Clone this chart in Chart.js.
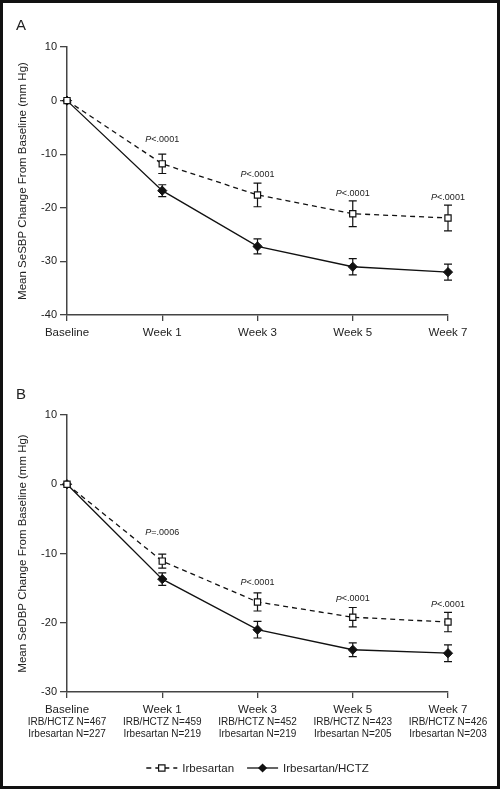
<!DOCTYPE html>
<html><head><meta charset="utf-8">
<script src="https://cdn.jsdelivr.net/npm/chart.js@4/dist/chart.umd.min.js"></script>
<style>
html,body{margin:0;padding:0;background:#fff;}
#wrap{position:relative;width:500px;height:789px;overflow:hidden;font-family:"Liberation Sans",Arial,sans-serif;}
#frame{position:absolute;left:0;top:0;width:500px;height:789px;box-sizing:border-box;border:3px solid #111;pointer-events:none;z-index:5;}
.panel{position:absolute;font-size:15px;color:#222;line-height:1;}
#cA{position:absolute;left:0;top:0;}
#cB{position:absolute;left:0;top:380px;}
</style></head>
<body><div id="wrap">
<canvas id="cA" width="500" height="380"></canvas>
<canvas id="cB" width="500" height="409"></canvas>
<div class="panel" style="left:16px;top:17px">A</div>
<div class="panel" style="left:16px;top:386px">B</div>
<div id="frame"></div>
</div>
<script>
// ---- data ----
const categories = ['Baseline', 'Week 1', 'Week 3', 'Week 5', 'Week 7'];
const seriesNames = ['Irbesartan', 'Irbesartan/HCTZ'];

const sbpIrbesartan    = [0, -11.8, -17.6, -21.1, -21.9];
const sbpIrbesartanErr = [0, 1.8, 2.2, 2.4, 2.4];
const sbpCombo         = [0, -16.8, -27.2, -31.0, -32.0];
const sbpComboErr      = [0, 1.1, 1.4, 1.5, 1.5];
const sbpPValues       = [null, '<.0001', '<.0001', '<.0001', '<.0001'];
const sbpTicks         = [10, 0, -10, -20, -30, -40];

const dbpIrbesartan    = [0, -11.1, -17.0, -19.2, -19.9];
const dbpIrbesartanErr = [0, 1.0, 1.3, 1.4, 1.4];
const dbpCombo         = [0, -13.7, -21.0, -23.9, -24.4];
const dbpComboErr      = [0, 0.9, 1.2, 1.0, 1.2];
const dbpPValues       = [null, '=.0006', '<.0001', '<.0001', '<.0001'];
const dbpTicks         = [10, 0, -10, -20, -30];

const nCombo      = [467, 459, 452, 423, 426];
const nIrbesartan = [227, 219, 219, 205, 203];

// ---- styling / plugins ----
const FONT = '"Liberation Sans", Arial, sans-serif';
const INK = '#111';
const TXT = '#222';

const errorBars = {
  id: 'errorBars',
  beforeDatasetsDraw(chart) {
    const ctx = chart.ctx, y = chart.scales.y;
    chart.data.datasets.forEach((ds, i) => {
      const meta = chart.getDatasetMeta(i);
      meta.data.forEach((pt, j) => {
        const e = ds.errors ? ds.errors[j] : 0;
        if (!e) return;
        const v = ds.data[j];
        const yt = y.getPixelForValue(v + e), yb = y.getPixelForValue(v - e);
        ctx.save();
        ctx.strokeStyle = INK; ctx.lineWidth = 1.2; ctx.setLineDash([]);
        ctx.beginPath();
        ctx.moveTo(pt.x, yt); ctx.lineTo(pt.x, yb);
        ctx.moveTo(pt.x - 4, yt); ctx.lineTo(pt.x + 4, yt);
        ctx.moveTo(pt.x - 4, yb); ctx.lineTo(pt.x + 4, yb);
        ctx.stroke();
        ctx.restore();
      });
    });
  }
};

const pLabels = {
  id: 'pLabels',
  afterDatasetsDraw(chart, args, opts) {
    const ds = chart.data.datasets[0];
    const vals = opts.values; if (!vals) return;
    const lift = opts.lift || [];
    const ctx = chart.ctx, y = chart.scales.y;
    const meta = chart.getDatasetMeta(0);
    ctx.save();
    ctx.fillStyle = TXT; ctx.textBaseline = 'bottom';
    meta.data.forEach((pt, j) => {
      if (!vals[j]) return;
      const top = y.getPixelForValue(ds.data[j] + (ds.errors[j] || 0));
      const ty = top - 3 - (lift[j] || 0);
      ctx.font = 'italic 9px ' + FONT;
      const wP = ctx.measureText('P').width;
      ctx.font = '9px ' + FONT;
      const wR = ctx.measureText(vals[j]).width;
      const x0 = pt.x - (wP + wR) / 2;
      ctx.textAlign = 'left';
      ctx.font = 'italic 9px ' + FONT;
      ctx.fillText('P', x0, ty);
      ctx.font = '9px ' + FONT;
      ctx.fillText(vals[j], x0 + wP, ty);
    });
    ctx.restore();
  }
};

function drawSquare(ctx, x, y, s) {
  ctx.save(); ctx.setLineDash([]); ctx.fillStyle = '#fff'; ctx.strokeStyle = INK; ctx.lineWidth = 1.2;
  ctx.beginPath(); ctx.rect(x - s, y - s, 2 * s, 2 * s); ctx.fill(); ctx.stroke(); ctx.restore();
}
function drawDiamond(ctx, x, y, s) {
  ctx.save(); ctx.fillStyle = INK;
  ctx.beginPath(); ctx.moveTo(x, y - s); ctx.lineTo(x + s, y); ctx.lineTo(x, y + s); ctx.lineTo(x - s, y); ctx.closePath(); ctx.fill(); ctx.restore();
}

const bottomLegend = {
  id: 'bottomLegend',
  afterDraw(chart, args, opts) {
    if (!opts.show) return;
    const ctx = chart.ctx;
    const ca = chart.chartArea;
    const cy = opts.y;
    ctx.save();
    ctx.font = '11.5px ' + FONT;
    const sym = 31, gapT = 5, gapItem = 13;
    const names = chart.data.datasets.map(d => d.label);
    const widths = names.map(n => ctx.measureText(n).width);
    const total = sym * 2 + gapT * 2 + widths[0] + widths[1] + gapItem;
    let x = (ca.left + ca.right) / 2 - total / 2;
    chart.data.datasets.forEach((ds, i) => {
      ctx.strokeStyle = INK; ctx.lineWidth = 1.3;
      ctx.setLineDash(ds.borderDash || []);
      ctx.beginPath(); ctx.moveTo(x, cy); ctx.lineTo(x + sym, cy); ctx.stroke();
      ctx.setLineDash([]);
      if (i === 0) drawSquare(ctx, x + sym / 2, cy, 3.2);
      else drawDiamond(ctx, x + sym / 2, cy, 4.6);
      ctx.fillStyle = TXT; ctx.textAlign = 'left'; ctx.textBaseline = 'middle';
      ctx.fillText(ds.label, x + sym + gapT, cy + 1);
      x += sym + gapT + widths[i] + gapItem;
    });
    ctx.restore();
  }
};

function makeDatasets(irb, irbErr, combo, comboErr) {
  return [
    {
      label: seriesNames[0], data: irb, errors: irbErr,
      borderColor: INK, borderWidth: 1.3, borderDash: [5, 4],
      pointStyle: 'rect', pointRadius: 4.4, pointBackgroundColor: '#fff',
      pointBorderColor: INK, pointBorderWidth: 1.2, tension: 0, clip: false
    },
    {
      label: seriesNames[1], data: combo, errors: comboErr,
      borderColor: INK, borderWidth: 1.3,
      pointStyle: 'rectRot', pointRadius: 4.6, pointBackgroundColor: INK,
      pointBorderColor: INK, pointBorderWidth: 1, tension: 0, clip: false
    }
  ];
}

function yScale(ticks, title) {
  return {
    min: Math.min(...ticks), max: Math.max(...ticks),
    afterFit: s => { s.width = 67; },
    afterBuildTicks: s => { s.ticks = ticks.slice().sort((a, b) => a - b).map(v => ({ value: v })); },
    ticks: { color: TXT, font: { family: FONT, size: 11 }, padding: 3 },
    grid: { drawOnChartArea: false, drawTicks: true, tickLength: 7, color: '#444', lineWidth: 1.3 },
    border: { display: true, color: '#444', width: 1.5 },
    title: { display: true, text: title, color: TXT, font: { family: FONT, size: 11.5 }, padding: { top: 16, bottom: 0 } }
  };
}
function xScale() {
  return {
    type: 'category', offset: false, weight: 0,
    afterFit: s => { s.height = 24; },
    ticks: { color: TXT, font: { family: FONT, size: 11.5 }, padding: 5, autoSkip: false, maxRotation: 0 },
    grid: { drawOnChartArea: false, drawTicks: true, tickLength: 6, color: '#444', lineWidth: 1.3 },
    border: { display: true, color: '#444', width: 1.5 }
  };
}

const common = { responsive: false, animation: false, devicePixelRatio: 1 };

new Chart(document.getElementById('cA'), {
  type: 'line',
  data: { labels: categories, datasets: makeDatasets(sbpIrbesartan, sbpIrbesartanErr, sbpCombo, sbpComboErr) },
  options: Object.assign({}, common, {
    layout: { padding: { top: 47, right: 52, bottom: 41, left: 0 } },
    scales: { x: xScale(), y: yScale(sbpTicks, 'Mean SeSBP Change From Baseline (mm Hg)') },
    plugins: {
      legend: { display: false }, tooltip: { enabled: false },
      pLabels: { values: sbpPValues, lift: [0, 7, 1, 0, 0] },
      bottomLegend: { show: false }
    }
  }),
  plugins: [errorBars, pLabels, bottomLegend]
});

new Chart(document.getElementById('cB'), {
  type: 'line',
  data: { labels: categories, datasets: makeDatasets(dbpIrbesartan, dbpIrbesartanErr, dbpCombo, dbpComboErr) },
  options: Object.assign({}, common, {
    layout: { padding: { top: 35, right: 52, bottom: 47, left: 0 } },
    scales: {
      x: xScale(),
      x2: {
        type: 'category', position: 'bottom', offset: false, weight: 1,
        labels: categories.map((c, i) => ['IRB/HCTZ N=' + nCombo[i], 'Irbesartan N=' + nIrbesartan[i]]),
        afterFit: s => { s.height = 26; },
        ticks: { color: TXT, font: { family: FONT, size: 10 }, padding: 0, autoSkip: false, maxRotation: 0 },
        grid: { display: false, drawTicks: false },
        border: { display: false }
      },
      y: yScale(dbpTicks, 'Mean SeDBP Change From Baseline (mm Hg)')
    },
    plugins: {
      legend: { display: false }, tooltip: { enabled: false },
      pLabels: { values: dbpPValues, lift: [0, 14, 3, 1, 0] },
      bottomLegend: { show: true, y: 388 }
    }
  }),
  plugins: [errorBars, pLabels, bottomLegend]
});
</script>
</body></html>
